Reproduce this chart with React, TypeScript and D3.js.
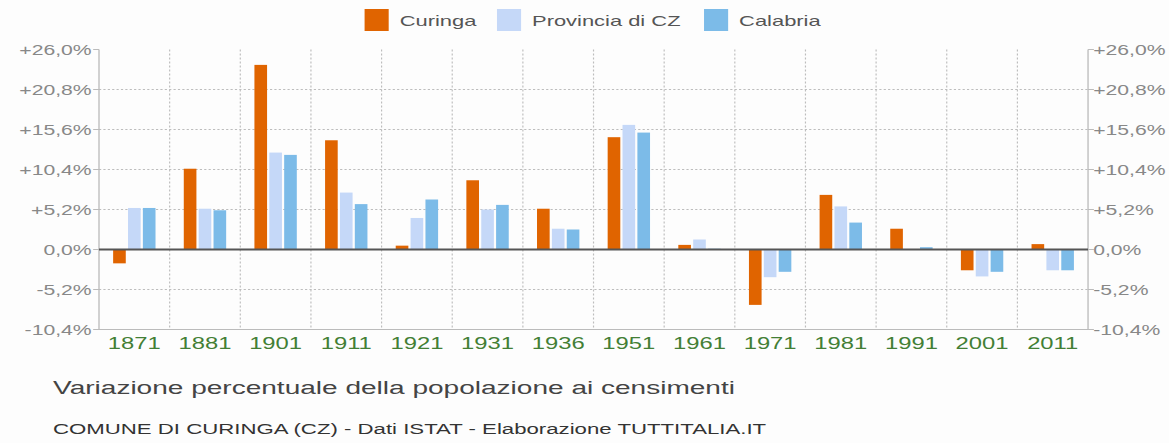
import React from "react";
import * as d3 from "d3";

const years = ["1871","1881","1901","1911","1921","1931","1936","1951","1961","1971","1981","1991","2001","2011"];
const curinga = [-1.8, 10.5, 24.0, 14.2, 0.5, 9.0, 5.3, 14.6, 0.6, -7.2, 7.1, 2.7, -2.7, 0.7];
const provincia = [5.4, 5.3, 12.6, 7.4, 4.1, 5.2, 2.7, 16.2, 1.3, -3.6, 5.6, 0.0, -3.5, -2.7];
const calabria = [5.4, 5.1, 12.3, 5.9, 6.5, 5.8, 2.6, 15.2, 0.1, -2.9, 3.5, 0.3, -2.9, -2.7];
const seriesNames = ["Curinga", "Provincia di CZ", "Calabria"];
const tickValues = [26, 20.8, 15.6, 10.4, 5.2, 0, -5.2, -10.4];

const colors = ["#e06400", "#c5d8f8", "#7cbbe8"];
const W = 800, H = 443;
const left = 67.75, right = 744.6, top = 49.5, bottom = 329.5;
const FONT = "'Liberation Sans', Arial, Helvetica, sans-serif";

function fmt(v: number) {
  const s = Math.abs(v).toFixed(1).replace(".", ",") + "%";
  if (v > 0) return "+" + s;
  if (v < 0) return "-" + s;
  return s;
}

export default function App() {
  const x0 = d3.scaleBand<string>().domain(years).range([left, right]).paddingInner(0).paddingOuter(0);
  const x1 = d3.scaleBand<string>().domain(seriesNames).range([0, 29]).paddingInner(0.15);
  const y = d3.scaleLinear().domain([-10.4, 26]).range([bottom, top]);
  const data = [curinga, provincia, calabria];
  const legendX = [249.5, 340.1, 481.8];
  return (
    <svg
      width={1169}
      height={443}
      viewBox={`0 0 ${W} ${H}`}
      preserveAspectRatio="none"
      style={{ position: "fixed", left: 0, top: 0, background: "#fdfdfd" }}
    >
      <rect x={0} y={0} width={W} height={H} fill="#fdfdfd" />
      {/* legend */}
      {seriesNames.map((s, i) => (
        <g key={s}>
          <rect x={legendX[i]} y={9} width={16.5} height={22} fill={colors[i]} />
          <text x={legendX[i] + 24} y={26} fontFamily={FONT} fontSize={15} fill="#555">{s}</text>
        </g>
      ))}
      {/* horizontal grid */}
      {tickValues.filter((t) => t !== 0 && t !== 26).map((t) => (
        <line key={t} x1={left} x2={right} y1={y(t)} y2={y(t)} stroke="#bdbdbd" strokeWidth={1} strokeDasharray="1.5,1.5" />
      ))}
      {/* vertical grid */}
      {years.slice(1).map((yr) => (
        <line key={yr} x1={x0(yr)!} x2={x0(yr)!} y1={top} y2={bottom} stroke="#bdbdbd" strokeWidth={0.8} strokeDasharray="2,2" />
      ))}
      {/* bars */}
      {years.map((yr, gi) => (
        <g key={yr}>
          {data.map((arr, si) => {
            const v = arr[gi];
            const cx = x0(yr)! + x0.bandwidth() / 2 - 14.5 + x1(seriesNames[si])!;
            const y0 = y(0);
            const yv = y(v);
            return (
              <rect key={si} x={cx} width={x1.bandwidth()} y={Math.min(y0, yv)} height={Math.abs(yv - y0)} fill={colors[si]} />
            );
          })}
        </g>
      ))}
      {/* axes */}
      <line x1={left} x2={left} y1={top} y2={bottom} stroke="#bbb" strokeWidth={0.9} />
      <line x1={right} x2={right} y1={top} y2={bottom} stroke="#bbb" strokeWidth={0.9} />
      <line x1={left} x2={right} y1={bottom} y2={bottom} stroke="#bbb" strokeWidth={1} />
      <line x1={left} x2={right} y1={y(0)} y2={y(0)} stroke="#555" strokeWidth={2} />
      {tickValues.map((t) => (
        <g key={t}>
          <line x1={left - 4} x2={left} y1={y(t)} y2={y(t)} stroke="#bbb" strokeWidth={1} />
          <line x1={right} x2={right + 4} y1={y(t)} y2={y(t)} stroke="#bbb" strokeWidth={1} />
          <text x={left - 5} y={y(t)} dy="0.35em" textAnchor="end" fontFamily={FONT} fontSize={14.5} fill="#888">{fmt(t)}</text>
          <text x={right + 3.5} y={y(t)} dy="0.35em" textAnchor="start" fontFamily={FONT} fontSize={14.5} fill="#888">{fmt(t)}</text>
        </g>
      ))}
      {years.map((yr) => (
        <text key={yr} x={x0(yr)! + x0.bandwidth() / 2} y={349} textAnchor="middle" fontFamily={FONT} fontSize={16.3} fill="#437f35">{yr}</text>
      ))}
      <text x={36.3} y={394} fontFamily={FONT} fontSize={19.2} fill="#444">Variazione percentuale della popolazione ai censimenti</text>
      <text x={36.3} y={434} fontFamily={FONT} fontSize={15.2} fill="#333">COMUNE DI CURINGA (CZ) - Dati ISTAT - Elaborazione TUTTITALIA.IT</text>
    </svg>
  );
}
